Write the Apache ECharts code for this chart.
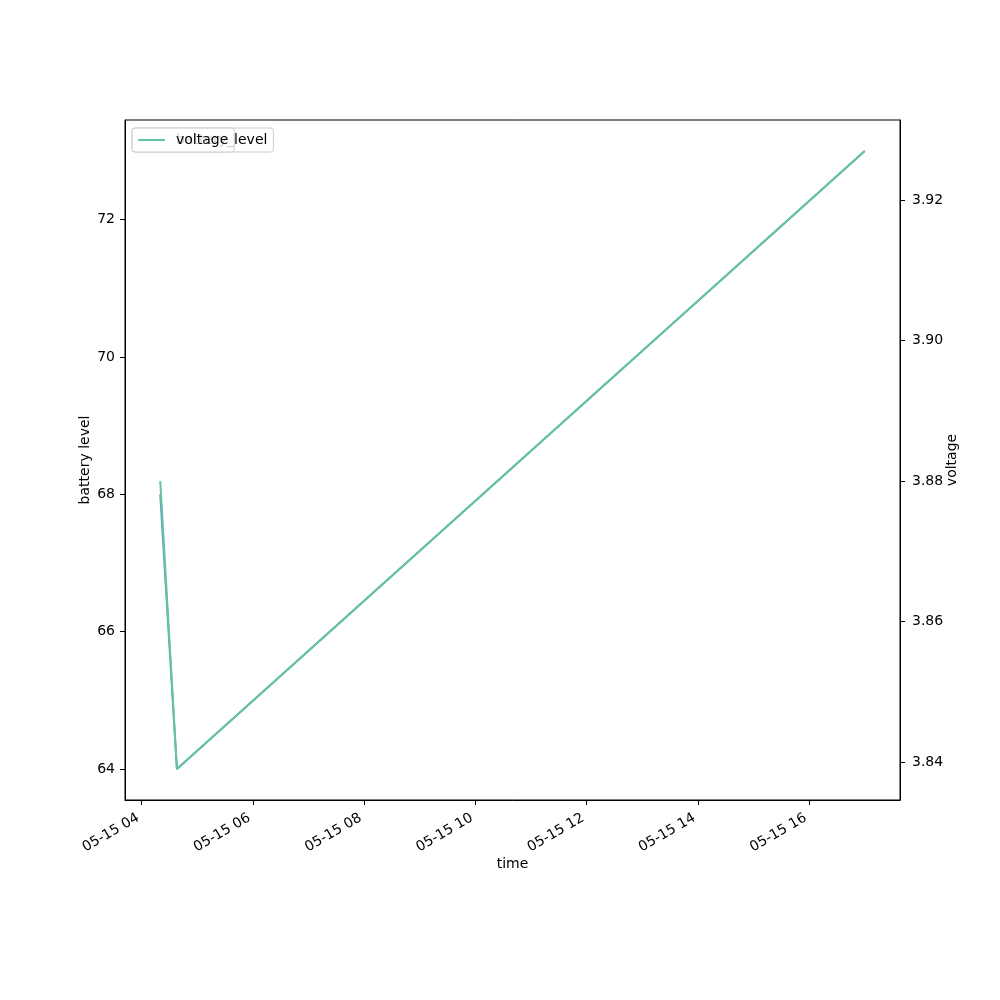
<!DOCTYPE html>
<html>
<head>
<meta charset="utf-8">
<script src="https://cdn.jsdelivr.net/npm/echarts@6/dist/echarts.min.js"></script>
<style>
html,body{margin:0;padding:0;background:#fff;}
#chart{width:1000px;height:1000px;}
</style>
</head>
<body>
<div id="chart"></div>
<script>
const times = ['2024-05-15T04:20:00', '2024-05-15T04:38:00', '2024-05-15T17:00:00'];
const batteryLevel = [68, 64, 73];
const voltage = [3.880, 3.839, 3.927];
const xTickTimes = ['2024-05-15T04:00:00','2024-05-15T06:00:00','2024-05-15T08:00:00','2024-05-15T10:00:00','2024-05-15T12:00:00','2024-05-15T14:00:00','2024-05-15T16:00:00'];
const leftTicks = [64, 66, 68, 70, 72];
const rightTicks = [3.84, 3.86, 3.88, 3.90, 3.92];

const toMs = s => new Date(s).getTime();
const xMin = toMs(times[0]) - 0.05 * (toMs(times[2]) - toMs(times[0]));
const xMax = toMs(times[2]) + 0.05 * (toMs(times[2]) - toMs(times[0]));
const bMin = Math.min(...batteryLevel), bMax = Math.max(...batteryLevel);
const vMin = Math.min(...voltage), vMax = Math.max(...voltage);
const pad2 = n => String(n).padStart(2, '0');
const font = 'DejaVu Sans';
const FS = 14;
const legendBase = {
  left: 132, top: 128, orient: 'vertical',
  backgroundColor: 'rgba(255,255,255,0.8)', borderColor: '#ccc', borderWidth: 1, borderRadius: 3,
  padding: [5, 6, 5, 6], itemWidth: 27, itemHeight: 2, itemGap: 4, icon: 'rect',
  textStyle: {fontSize: FS, color: '#000', fontFamily: font, padding: [0, 0, 0, 6]}
};

const chart = echarts.init(document.getElementById('chart'));
chart.setOption({
  animation: false,
  textStyle: {fontFamily: font},
  grid: {left: 125, right: 100, top: 120, bottom: 200, show: true, borderColor: '#000', borderWidth: 1, backgroundColor: 'transparent'},
  legend: [
    Object.assign({}, legendBase, {data: ['battery_level'], z: 5}),
    Object.assign({}, legendBase, {data: ['voltage'], z: 6})
  ],
  xAxis: {
    type: 'value', min: xMin, max: xMax,
    name: 'time', nameLocation: 'middle', nameGap: 57, nameMoveOverlap: false,
    nameTextStyle: {fontSize: FS, color: '#000', fontFamily: font},
    axisLine: {show: true, lineStyle: {color: '#000'}},
    axisTick: {show: true, length: 5, lineStyle: {color: '#000'}, customValues: xTickTimes.map(toMs)},
    axisLabel: {
      customValues: xTickTimes.map(toMs), rotate: 30, fontSize: FS, color: '#000', fontFamily: font, margin: 15,
      padding: [0, 4, 0, 0],
      formatter: v => { const d = new Date(v); return pad2(d.getMonth() + 1) + '-' + pad2(d.getDate()) + ' ' + pad2(d.getHours()); }
    },
    splitLine: {show: false}
  },
  yAxis: [
    {
      type: 'value', position: 'left', min: bMin - 0.05 * (bMax - bMin), max: bMax + 0.05 * (bMax - bMin),
      name: 'battery level', nameLocation: 'middle', nameGap: 33, nameRotate: 90, nameMoveOverlap: false,
      nameTextStyle: {fontSize: FS, color: '#000', fontFamily: font},
      axisLine: {show: true, lineStyle: {color: '#000'}},
      axisTick: {show: true, length: 5, lineStyle: {color: '#000'}, customValues: leftTicks},
      axisLabel: {customValues: leftTicks, fontSize: FS, color: '#000', fontFamily: font, margin: 10},
      splitLine: {show: false}
    },
    {
      type: 'value', position: 'right', min: vMin - 0.05 * (vMax - vMin), max: vMax + 0.05 * (vMax - vMin),
      name: 'voltage', nameLocation: 'middle', nameGap: 45, nameRotate: 90, nameMoveOverlap: false,
      nameTextStyle: {fontSize: FS, color: '#000', fontFamily: font},
      axisLine: {show: true, lineStyle: {color: '#000'}},
      axisTick: {show: true, length: 5, lineStyle: {color: '#000'}, customValues: rightTicks},
      axisLabel: {customValues: rightTicks, fontSize: FS, color: '#000', fontFamily: font, margin: 12, formatter: v => v.toFixed(2)},
      splitLine: {show: false}
    }
  ],
  series: [
    {name: 'battery_level', type: 'line', yAxisIndex: 0, showSymbol: false, symbol: 'none',
     data: times.map((t, i) => [toMs(t), batteryLevel[i]]),
     itemStyle: {color: '#5c9fbd'}, lineStyle: {color: '#5c9fbd', width: 2}},
    {name: 'voltage', type: 'line', yAxisIndex: 1, showSymbol: false, symbol: 'none',
     data: times.map((t, i) => [toMs(t), voltage[i]]),
     itemStyle: {color: '#66c2a5'}, lineStyle: {color: '#66c2a5', width: 2}}
  ]
});
</script>
</body>
</html>
